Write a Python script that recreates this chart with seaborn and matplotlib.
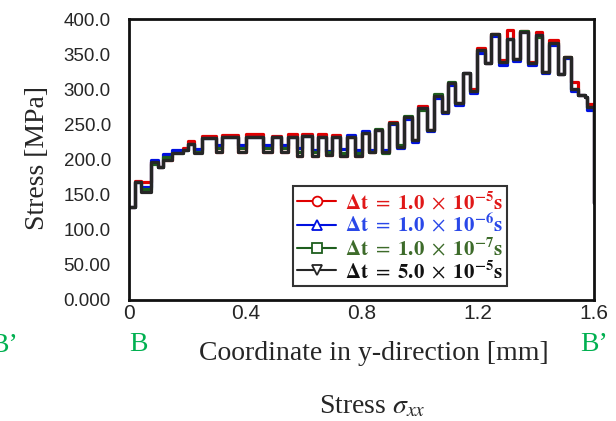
import numpy as np
import pandas as pd
import matplotlib
matplotlib.use('Agg')
import matplotlib.pyplot as plt
import seaborn as sns
from matplotlib.lines import Line2D

# ── Data ─────────────────────────────────────────────────────
# start of each step along the path B -> B' [mm]
y_coord = [0.000, 0.021, 0.041, 0.076, 0.100, 0.117, 0.148, 0.186, 0.203, 0.224,
           0.251, 0.299, 0.320, 0.375, 0.403, 0.461, 0.492, 0.523, 0.547, 0.578,
           0.595, 0.630, 0.650, 0.678, 0.699, 0.726, 0.750, 0.778, 0.802, 0.826,
           0.847, 0.871, 0.895, 0.922, 0.946, 0.974, 0.994, 1.025, 1.050, 1.077,
           1.098, 1.122, 1.149, 1.173, 1.198, 1.225, 1.246, 1.273, 1.301, 1.321,
           1.345, 1.373, 1.401, 1.421, 1.445, 1.476, 1.497, 1.521, 1.545, 1.569,
           1.576, 1.600, 1.600]

stress_dt_1e5 = [132, 170, 168, 196, 190, 199, 211, 216, 226, 213,
                 234, 211, 235, 211, 236, 211, 233, 211, 236, 205,
                 237, 205, 236, 207, 235, 205, 232, 205, 238, 211,
                 242, 211, 254, 218, 260, 228, 276, 242, 290, 268,
                 309, 280, 323, 300, 359, 337, 379, 342, 384, 343,
                 383, 339, 381, 325, 370, 321, 346, 310, 292, 289,
                 279, 279, 138]
stress_dt_1e6 = [132, 168, 161, 199, 190, 208, 213, 214, 222, 215,
                 230, 221, 232, 221, 232, 221, 232, 221, 232, 216,
                 233, 214, 232, 212, 232, 215, 235, 214, 240, 213,
                 242, 213, 250, 216, 258, 225, 273, 240, 288, 266,
                 306, 278, 323, 294, 352, 337, 376, 335, 372, 340,
                 381, 334, 377, 323, 363, 321, 344, 298, 292, 289,
                 271, 271, 138]
stress_dt_1e7 = [132, 168, 158, 194, 190, 203, 209, 214, 222, 211,
                 230, 217, 232, 217, 232, 217, 232, 217, 232, 211,
                 233, 210, 232, 210, 232, 209, 232, 209, 238, 211,
                 244, 209, 252, 220, 262, 228, 271, 242, 293, 268,
                 311, 280, 323, 297, 356, 337, 379, 339, 372, 343,
                 383, 337, 375, 325, 366, 321, 346, 300, 292, 289,
                 275, 275, 138]
stress_dt_5e5 = [132, 168, 154, 196, 190, 199, 209, 214, 222, 209,
                 230, 211, 232, 211, 232, 211, 232, 211, 232, 205,
                 233, 205, 232, 207, 232, 205, 232, 205, 238, 211,
                 242, 211, 252, 218, 260, 228, 273, 242, 290, 268,
                 309, 280, 323, 297, 356, 337, 379, 339, 372, 343,
                 381, 337, 377, 325, 366, 321, 346, 300, 292, 289,
                 275, 275, 138]

series_names = ['1e-5', '1e-6', '1e-7', '5e-5']
legend_labels = [r'$\mathbf{\Delta t}\ =\ \mathbf{1.0}\ \times\ \mathbf{10^{-5}s}$',
                 r'$\mathbf{\Delta t}\ =\ \mathbf{1.0}\ \times\ \mathbf{10^{-6}s}$',
                 r'$\mathbf{\Delta t}\ =\ \mathbf{1.0}\ \times\ \mathbf{10^{-7}s}$',
                 r'$\mathbf{\Delta t}\ =\ \mathbf{5.0}\ \times\ \mathbf{10^{-5}s}$']
line_colors = ['#e00000', '#0010e0', '#1e5e1e', '#262626']
text_colors = ['#e01818', '#2a48e8', '#3d6b2a', '#111111']
markers = ['o', '^', 's', 'v']

y_ticks = [0, 50, 100, 150, 200, 250, 300, 350, 400]
y_ticklabels = ['0.000', '50.00', '100.0', '150.0', '200.0', '250.0', '300.0', '350.0', '400.0']
x_ticks = [0, 0.4, 0.8, 1.2, 1.6]
x_ticklabels = ['0', '0.4', '0.8', '1.2', '1.6']

frames = []
for name, vals in zip(series_names, [stress_dt_1e5, stress_dt_1e6, stress_dt_1e7, stress_dt_5e5]):
    frames.append(pd.DataFrame({'coord': y_coord, 'stress': vals, 'dt': name}))
df = pd.concat(frames, ignore_index=True)

# ── Plot ─────────────────────────────────────────────────────
sns.set_style('white')
plt.rcParams['font.family'] = ['Liberation Sans', 'DejaVu Sans']
plt.rcParams['mathtext.fontset'] = 'stix'

fig = plt.figure(figsize=(6.16, 4.21), dpi=100)
ax = fig.add_axes([129 / 616, 1 - 300 / 421, 465 / 616, 281 / 421])

sns.lineplot(data=df, x='coord', y='stress', hue='dt', hue_order=series_names,
             palette=dict(zip(series_names, line_colors)), drawstyle='steps-post',
             estimator=None, sort=False, linewidth=2.3, legend=False, ax=ax)

ax.set_xlim(0, 1.6)
ax.set_ylim(0, 400)
ax.set_yticks(y_ticks)
ax.set_yticklabels(y_ticklabels, fontsize=13.5)
ax.set_xticks(x_ticks)
ax.set_xticklabels(x_ticklabels, fontsize=15, family=['Liberation Sans Narrow', 'Liberation Sans'])
ax.tick_params(axis='y', length=0, pad=13)
ax.tick_params(axis='x', length=0, pad=3)
for sp in ax.spines.values():
    sp.set_linewidth(2)
    sp.set_color('#111111')

serif = ['Liberation Serif', 'DejaVu Serif']
ax.set_ylabel('Stress [MPa]', fontsize=20, family=serif)
ax.yaxis.set_label_coords(-0.17, 0.505)
ax.set_xlabel('Coordinate in y-direction [mm]', fontsize=20, family=serif)
ax.xaxis.set_label_coords(0.527, -0.146)
ax.text(0.523, -0.335, r'Stress $\sigma_{xx}$', transform=ax.transAxes, fontsize=20,
        family=serif, ha='center', va='top')

green = '#00b050'
ax.text(0.0, -0.115, 'B', transform=ax.transAxes, fontsize=20, family=serif,
        color=green, ha='left', va='top')
ax.text(1.0, -0.115, 'B\u2019', transform=ax.transAxes, fontsize=20, family=serif,
        color=green, ha='center', va='top')
fig.text(18 / 616, 1 - 333 / 421, 'B\u2019', fontsize=20, family=serif,
         color=green, ha='right', va='top')

handles = [Line2D([], [], color=c, marker=m, markersize=7, markerfacecolor='white',
                  markeredgewidth=1.3, linewidth=1.5)
           for c, m in zip(line_colors, markers)]
leg = ax.legend(handles, legend_labels, loc='lower left', bbox_to_anchor=(0.352, 0.05),
                fontsize=15, frameon=True, fancybox=False, edgecolor='#333333',
                framealpha=1, borderpad=0.2, labelspacing=0.02, handlelength=1.9,
                handletextpad=0.4, borderaxespad=0)
leg.get_frame().set_linewidth(1.5)
for t, c in zip(leg.get_texts(), text_colors):
    t.set_color(c)

plt.savefig('out.png', dpi=100)
plt.close()
